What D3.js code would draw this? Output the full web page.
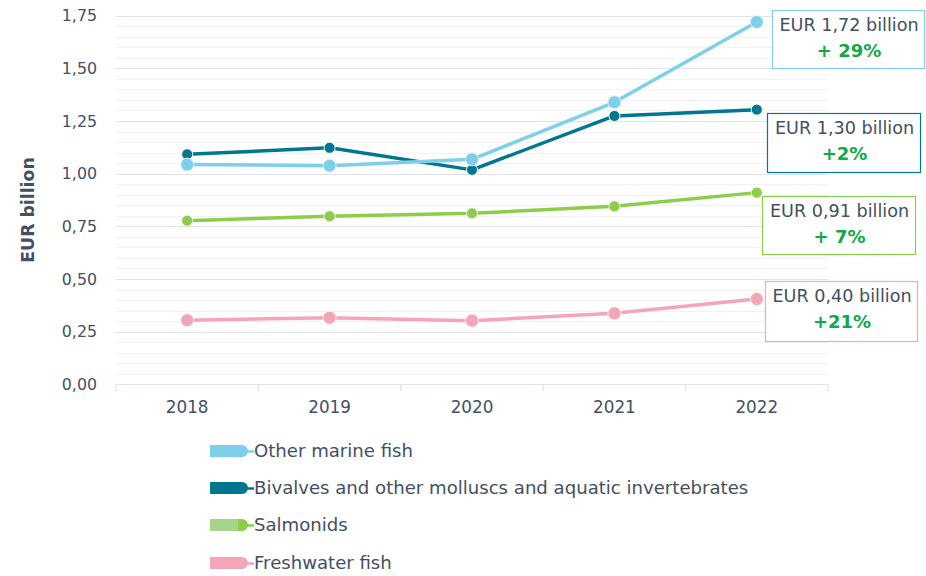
<!DOCTYPE html>
<html><head><meta charset="utf-8">
<script src="https://cdn.jsdelivr.net/npm/d3@7"></script>
<style>
html,body{margin:0;padding:0;background:#fff;}
svg{display:block;font-family:"DejaVu Sans",sans-serif;}
</style></head>
<body><svg id="c" width="926" height="576"></svg>
<script>
const years = ["2018","2019","2020","2021","2022"];
const seriesNames = ["Other marine fish","Bivalves and other molluscs and aquatic invertebrates","Salmonids","Freshwater fish"];
const otherMarine = [1.043,1.038,1.068,1.339,1.72];
const bivalves = [1.092,1.123,1.018,1.274,1.304];
const salmonids = [0.777,0.798,0.812,0.845,0.91];
const freshwater = [0.304,0.316,0.302,0.337,0.405];
const yTicks = [0,0.25,0.5,0.75,1.0,1.25,1.5,1.75];
const boxValues = ["EUR 1,72 billion","EUR 1,30 billion","EUR 0,91 billion","EUR 0,40 billion"];
const boxChanges = ["+ 29%","+2%","+ 7%","+21%"];

const colors = ["#7dcfea","#00778f","#8ecd4a","#f4a6b8"];
const legendFill = ["#7dcfea","#00778f","#a6d38a","#f4a6b8"];
const radii = [6.5,5.5,5.5,6.5];
const data = [otherMarine,bivalves,salmonids,freshwater];

const svg = d3.select("#c");
const x = d3.scaleBand().domain(years).range([116,828]);
const y = d3.scaleLinear().domain([0,1.75]).range([384.3,15.7]);
const textCol = "#444f63";

// minor gridlines
const minor = d3.range(0,1.7501,0.05);
svg.append("g").selectAll("line").data(minor).join("line")
  .attr("x1",116).attr("x2",828)
  .attr("y1",d=>Math.round(y(d))+0.5).attr("y2",d=>Math.round(y(d))+0.5)
  .attr("stroke",d=>Math.abs(d/0.25-Math.round(d/0.25))<1e-6?"#dfe3ea":"#f1f2f5")
  .attr("stroke-width",1.2);

// y axis labels
svg.append("g").selectAll("text").data(yTicks).join("text")
  .attr("x",97).attr("y",d=>y(d)).attr("dy","0.35em")
  .attr("text-anchor","end").attr("fill",textCol).attr("font-size",15.8)
  .text(d=>d3.format(".2f")(d).replace(".",","));

// x axis
const xa = svg.append("g").attr("transform","translate(0,384.3)")
  .call(d3.axisBottom(x).tickSize(0).tickPadding(17));
xa.select(".domain").remove();
xa.selectAll("text").attr("fill",textCol).attr("font-size",16.8).attr("font-family","DejaVu Sans, sans-serif");
svg.append("line").attr("x1",116).attr("x2",828).attr("y1",384.5).attr("y2",384.5).attr("stroke","#dfe3ea").attr("stroke-width",1.2);
const bounds = years.map(d=>x(d)).concat([x.range()[1]]);
svg.append("g").selectAll("line").data(bounds).join("line")
  .attr("x1",d=>d).attr("x2",d=>d).attr("y1",384).attr("y2",391)
  .attr("stroke","#dfe3ea").attr("stroke-width",1.2);

// y title
svg.append("text").attr("transform","translate(28,210) rotate(-90)")
  .attr("text-anchor","middle").attr("font-weight","bold").attr("font-size",17.3)
  .attr("dy","0.35em").attr("fill",textCol).text("EUR billion");

// lines
const line = d3.line().x((d,i)=>x(years[i])+x.bandwidth()/2).y(d=>y(d));
const order = [3,2,1,0];
order.forEach(k=>{
  svg.append("path").datum(data[k]).attr("d",line).attr("fill","none")
    .attr("stroke",colors[k]).attr("stroke-width",3.5).attr("stroke-linejoin","round");
  svg.append("g").selectAll("circle").data(data[k]).join("circle")
    .attr("cx",(d,i)=>x(years[i])+x.bandwidth()/2).attr("cy",d=>y(d))
    .attr("r",radii[k]).attr("fill",colors[k]).attr("stroke","#eef0f0").attr("stroke-width",1);
});

// annotation boxes
const boxes = [[772,10,152,58],[767,113,153,59],[762,196,153,58],[765,281,152,60]];
boxes.forEach((b,k)=>{
  const g = svg.append("g");
  g.append("rect").attr("x",b[0]+0.5).attr("y",b[1]+0.5).attr("width",b[2]).attr("height",b[3])
    .attr("fill","#fff").attr("stroke",colors[k]).attr("stroke-width",1.2);
  g.append("text").attr("x",b[0]+b[2]/2+1).attr("y",b[1]+15).attr("dy","0.35em")
    .attr("text-anchor","middle").attr("fill",textCol).attr("font-size",17.6).text(boxValues[k]);
  g.append("text").attr("x",b[0]+b[2]/2+1).attr("y",b[1]+41).attr("dy","0.35em")
    .attr("text-anchor","middle").attr("fill","#12a84a").attr("font-weight","bold").attr("font-size",18).text(boxChanges[k]);
});

// legend
const ly = [451,488,525,563];
seriesNames.forEach((n,k)=>{
  const g = svg.append("g").attr("transform",`translate(0,${ly[k]})`);
  g.append("rect").attr("x",210).attr("y",-6).attr("width",30).attr("height",12).attr("fill",legendFill[k]);
  g.append("path").attr("d","M238,-6 L242,-6 A6,6 0 0 1 242,6 L238,6 Z").attr("fill",colors[k]);
  g.append("line").attr("x1",247).attr("x2",254).attr("y1",0.5).attr("y2",0.5).attr("stroke",colors[k]).attr("stroke-width",2.5);
  g.append("text").attr("x",254).attr("y",0).attr("dy","0.35em").attr("fill",textCol).attr("font-size",18.1).text(n);
});
</script></body></html>
